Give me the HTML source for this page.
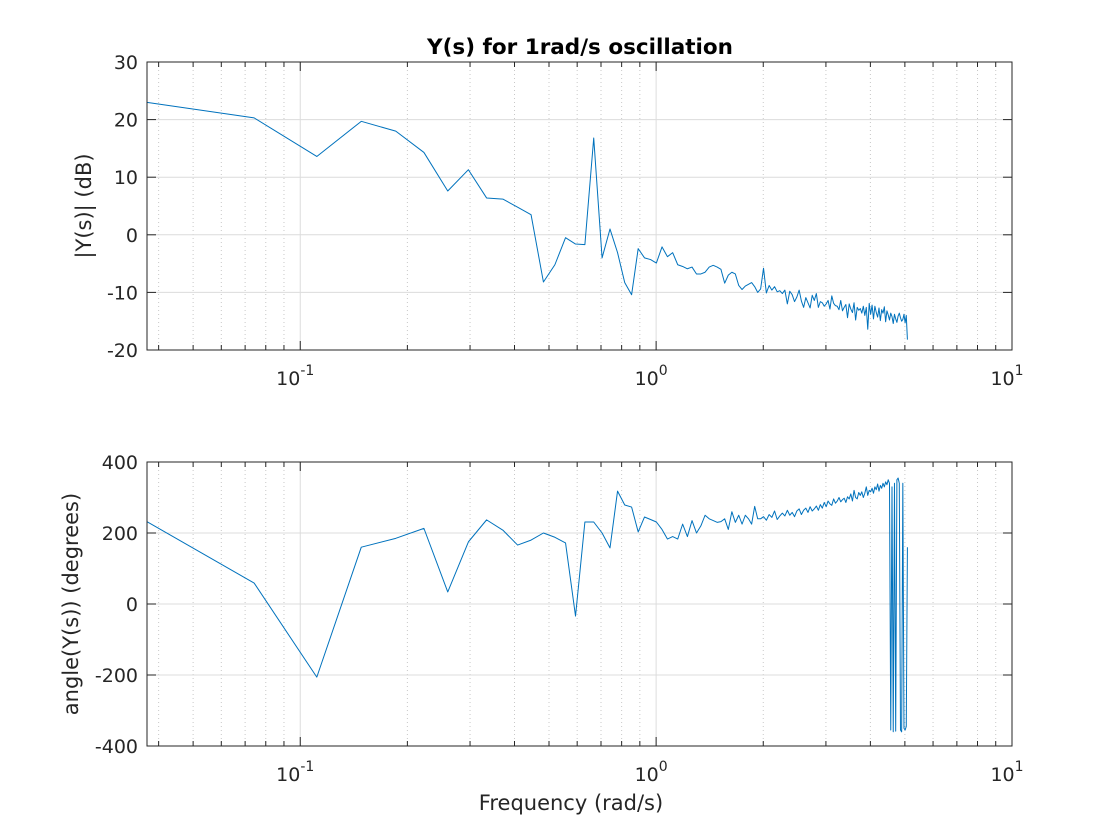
<!DOCTYPE html>
<html><head><meta charset="utf-8"><style>
html,body{margin:0;padding:0;background:#fff;}
svg{display:block;font-family:"DejaVu Sans","Liberation Sans",sans-serif;}
</style></head><body>
<svg id="chart" width="1120" height="840" viewBox="0 0 1120 840" xmlns="http://www.w3.org/2000/svg">
<rect width="1120" height="840" fill="#fff"/>
<text x="580" y="54" text-anchor="middle" font-size="21.5" font-weight="bold" fill="#000">Y(s) for 1rad/s oscillation</text>
<text x="571" y="810" text-anchor="middle" font-size="21" fill="#262626">Frequency (rad/s)</text>
<text transform="translate(91,206) rotate(-90)" text-anchor="middle" font-size="21" fill="#262626">|Y(s)| (dB)</text>
<text transform="translate(78,604) rotate(-90)" text-anchor="middle" font-size="21" fill="#262626">angle(Y(s)) (degrees)</text>
<g id="top"></g>
<g id="bot"></g>
</svg>
<script>
const w0 = 0.0371;
const magDb = [23,20.3,13.6,19.7,18,14.3,7.6,11.3,6.4,6.2,4.8,3.5,-8.2,-5.2,-0.5,-1.6,-1.7,16.8,-4,1,-3.1,-8.3,-10.4,-2.4,-4,-4.3,-4.9,-2.1,-3.8,-3.1,-5.2,-5.5,-5.9,-5.6,-6.8,
-6.8,-6.5,-5.6,-5.3,-5.6,
-6.0,-8.4,-7.0,-6.5,-6.8,-8.8,-9.5,-8.9,-8.6,-8.3,
-9.0,-10.0,-9.4,-5.8,-10.1,-8.8,-9.6,-9.0,-9.9,-9.7,
-10.2,-9.6,-12.0,-9.8,-10.4,-11.6,-10.8,-9.6,-11.5,-12.6,
-10.9,-11.8,-12.7,-10.5,-11.4,-10.2,-12.6,-11.6,-11.8,-12.4,
-12.0,-11.4,-12.9,-10.6,-11.9,-12.3,-12.4,-13.0,-11.4,-13.2,
-12.6,-12.1,-14.4,-12.0,-12.9,-13.5,-11.8,-14.8,-12.6,-13.1,
-12.8,-13.6,-12.4,-14.0,-12.6,-16.4,-11.9,-13.8,-12.2,-14.6,
-12.4,-13.5,-14.3,-12.7,-14.9,-13.0,-13.6,-12.5,-15.1,-13.2,
-13.9,-14.8,-13.6,-14.2,-15.4,-13.8,-14.6,-15.2,-14.1,-13.6,
-14.4,-15.0,-14.7,-13.8,-15.3,-14.0,-18.2];
const phaseDeg = [232,59,-206,160,185,213,34,175,237,208,166,180,200,188,172,-34,231,231,200,158,318,279,273,203,245,238,231,210,183,190,183,225,190,235,200,220,250,240,235,230,232,240,210,260,230,250,225,250,240,225,275,240,
240,246,236,252,244,262,238,248,
256,248,264,250,258,246,262,268,252,264,
270,258,274,262,268,276,264,280,270,286,
274,290,282,278,296,284,290,300,288,294,
298,286,302,296,310,290,320,300,296,314,
306,316,300,312,330,306,320,316,326,312,
330,322,338,318,334,326,340,330,344,336,
350,340,-355,330,-360,340,-358,350,355,340,
-355,-360,340,-350,-355,-345,160];
const magTicks = [30,20,10,0,-10,-20];
const phaseTicks = [400,200,0,-200,-400];
const decadeExps = [-1,0,1];

const NS="http://www.w3.org/2000/svg";
const X0=147,X1=1012;
const lmin=Math.log10(w0), lmax=1;
function xs(f){return X0+(Math.log10(f)-lmin)/(lmax-lmin)*(X1-X0);}
function mk(tag,attrs,parent){const e=document.createElementNS(NS,tag);for(const k in attrs)e.setAttribute(k,attrs[k]);parent.appendChild(e);return e;}

function drawAxes(g,Y0,Y1,ymin,ymax,ticks,vals,nm){
  const ys=v=>Y1-(v-ymin)/(ymax-ymin)*(Y1-Y0);
  for(let e=-2;e<=0;e++)for(let m=1;m<=9;m++){
    const f=m*Math.pow(10,e); if(f<w0||f>10) continue; const x=xs(f);
    if(m===1){
      const l=mk('line',{x1:x,x2:x,y1:Y0,y2:Y1,stroke:'#dcdcdc','stroke-width':1},g);
      
    } else {
      const l=mk('line',{x1:x,x2:x,y1:Y0,y2:Y1,stroke:'#c8c8c8','stroke-width':1,'stroke-dasharray':'1,3'},g);
      
      mk('line',{x1:x,x2:x,y1:Y1,y2:Y1-5,stroke:'#262626'},g);
      mk('line',{x1:x,x2:x,y1:Y0,y2:Y0+5,stroke:'#262626'},g);
    }
  }
  ticks.forEach(t=>{
    const y=ys(t);
    const l=mk('line',{x1:X0,x2:X1,y1:y,y2:y,stroke:'#dcdcdc'},g);
    
    mk('line',{x1:X0,x2:X0+9,y1:y,y2:y,stroke:'#262626'},g);
    mk('line',{x1:X1,x2:X1-9,y1:y,y2:y,stroke:'#262626'},g);
    const tx=mk('text',{x:X0-9,y:y+7,'text-anchor':'end','font-size':19,fill:'#262626'},g);
    tx.textContent=String(t);
    
  });
  decadeExps.forEach(e=>{
    const x=xs(Math.pow(10,e));
    mk('line',{x1:x,x2:x,y1:Y1,y2:Y1-9,stroke:'#262626'},g);
    mk('line',{x1:x,x2:x,y1:Y0,y2:Y0+9,stroke:'#262626'},g);
    const tx=mk('text',{x:x-5,y:Y1+35,'text-anchor':'middle','font-size':19,fill:'#262626'},g);
    
    tx.appendChild(document.createTextNode('10'));
    const s=mk('tspan',{dy:-10,'font-size':14},tx);s.textContent=String(e);
  });
  const pts=vals.map((v,i)=>xs((i+1)*w0).toFixed(2)+','+ys(v).toFixed(2)).join(' ');
  const pl=mk('polyline',{points:pts,fill:'none',stroke:'#0072bd','stroke-width':1,'stroke-linejoin':'round'},g);
  
  const b=mk('rect',{x:X0,y:Y0,width:X1-X0,height:Y1-Y0,fill:'none',stroke:'#262626','stroke-width':1},g);
  
}
drawAxes(document.getElementById('top'),62,350,-20,30,magTicks,magDb,'magnitude-line');
drawAxes(document.getElementById('bot'),462,746,-400,400,phaseTicks,phaseDeg,'phase-line');
</script>
</body></html>
